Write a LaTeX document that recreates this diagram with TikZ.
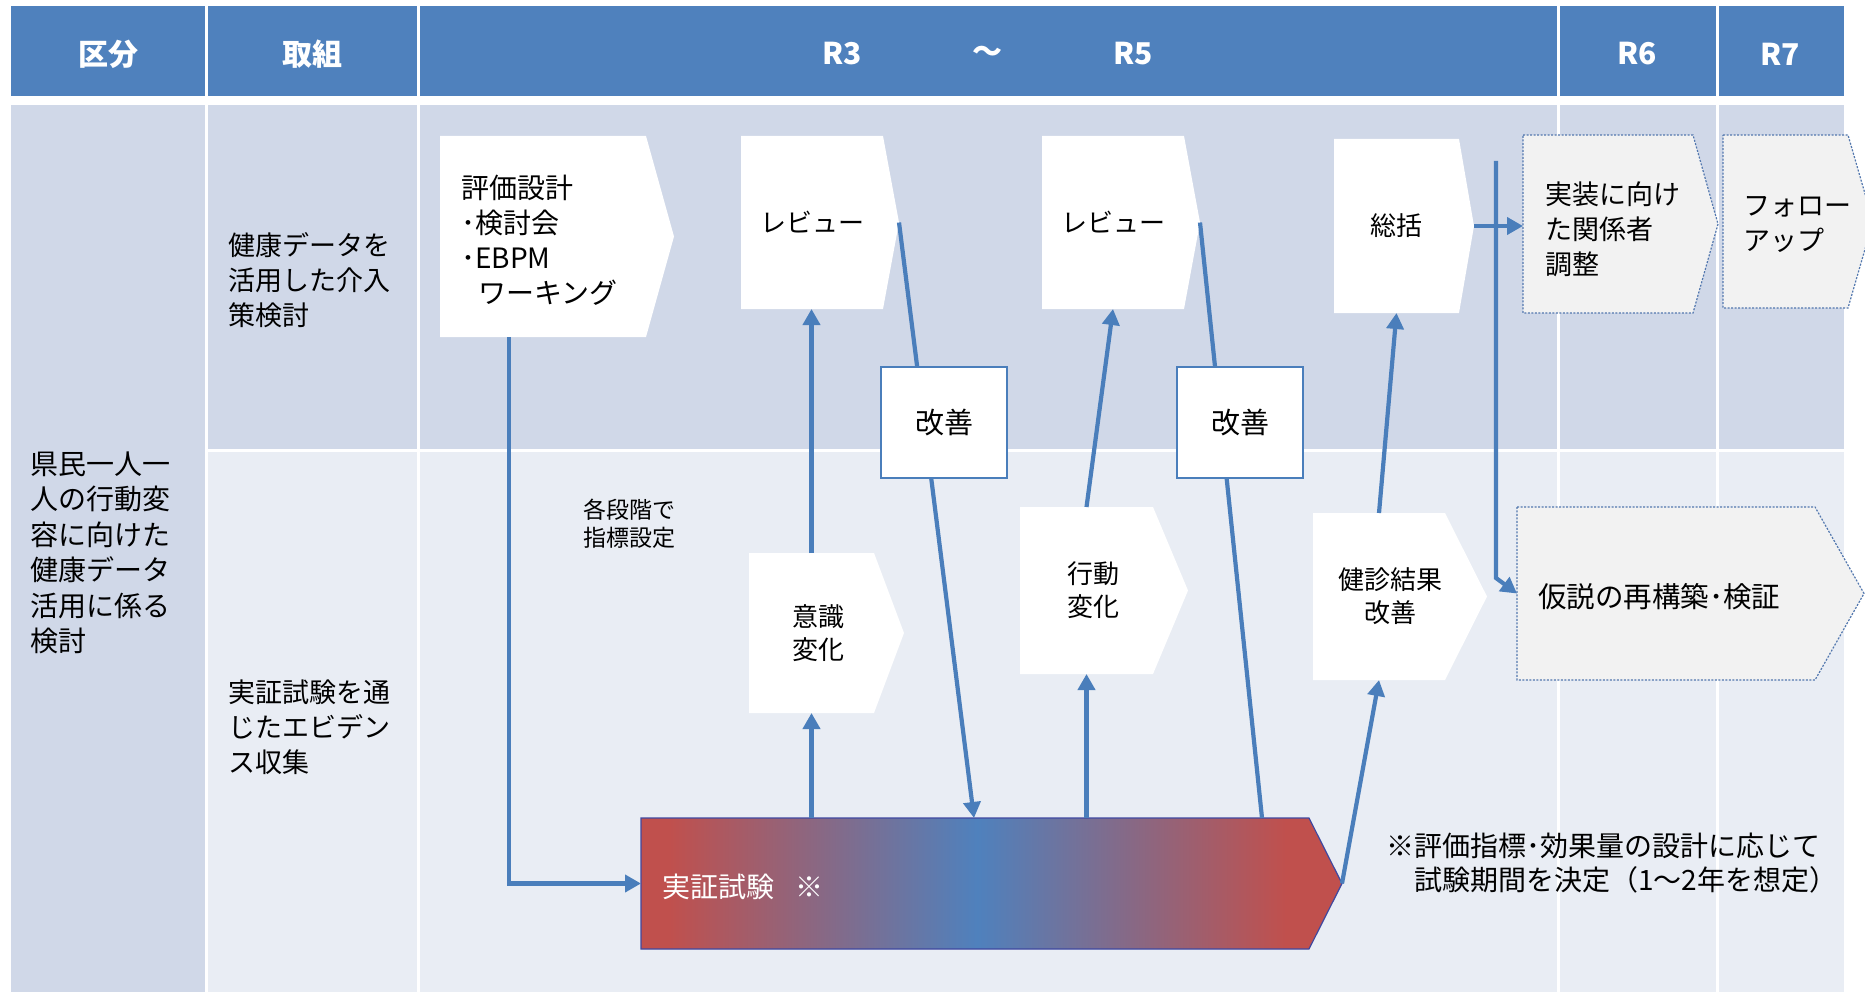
\documentclass[tikz,border=0pt]{standalone}
\usepackage{fontspec}
\setmainfont{Noto Sans CJK JP}
\usetikzlibrary{arrows.meta,calc}
\definecolor{hdr}{HTML}{4F81BD}
\definecolor{cellA}{HTML}{D0D8E8}
\definecolor{cellB}{HTML}{E9EDF4}
\definecolor{arw}{HTML}{4A7EBB}
\definecolor{jred}{HTML}{C0504D}
\definecolor{jblue}{HTML}{4F81BD}
\definecolor{kbd}{HTML}{3F48A0}
\definecolor{dotbd}{HTML}{5277AE}
\definecolor{greyf}{HTML}{F2F2F2}
\pgfdeclarehorizontalshading{rbr}{100bp}{color(0bp)=(jred); color(27bp)=(jred); color(49bp)=(jblue); color(71bp)=(jred); color(100bp)=(jred)}
\pgfdeclarelayer{bg}
\pgfdeclarelayer{shapes}
\pgfsetlayers{bg,shapes,main}
\newcommand\chevpath[3][]{%
  \begin{pgfonlayer}{shapes}
  \path[#1] (#2.north west) -- (#2.north east) -- ([xshift=#3pt]#2.east) -- (#2.south east) -- (#2.south west) -- cycle;
  \end{pgfonlayer}
  \coordinate (#2-tip) at ([xshift=#3pt]#2.east);}
\begin{document}
\begin{tikzpicture}[x=1pt,y=-1pt,
  txt/.style={font=\fontsize{27}{35}\selectfont, inner sep=0pt, align=left, anchor=west},
  area/.style={rectangle, inner sep=0pt, outer sep=0pt, align=center, font=\fontsize{26}{33}\selectfont},
  ctxt/.style={inner sep=0pt, align=center, font=\fontsize{26}{33}\selectfont},
  hdrtxt/.style={text=white, font=\fontsize{30}{36}\selectfont\bfseries, inner sep=0pt},
  arr/.style={draw=arw, line width=4.2pt, -{Triangle[length=16pt,width=17pt]}},
  conn/.style={draw=arw, line width=4.2pt},
  kaizen/.style={rectangle, draw=arw, line width=2pt, fill=white, minimum width=126pt, minimum height=111pt, inner sep=0pt, font=\fontsize{29}{33}\selectfont},
  whitebox/.style={fill=white},
  dotbox/.style={fill=greyf, draw=dotbd, line width=1.2pt, dash pattern=on 2pt off 1.5pt},
]
\useasboundingbox (0,0) rectangle (1865,992);
% ---------- table ----------
\begin{pgfonlayer}{bg}
\fill[white] (0,0) rectangle (1865,992);
\fill[hdr] (11,6) rectangle (205,96);
\fill[hdr] (208,6) rectangle (417,96);
\fill[hdr] (420,6) rectangle (1557,96);
\fill[hdr] (1560,6) rectangle (1716,96);
\fill[hdr] (1719,6) rectangle (1844,96);
\fill[cellA] (11,105) rectangle (205,992);
\fill[cellA] (208,105) rectangle (417,449);
\fill[cellA] (420,105) rectangle (1557,449);
\fill[cellA] (1560,105) rectangle (1716,449);
\fill[cellA] (1719,105) rectangle (1844,449);
\fill[cellB] (208,452) rectangle (417,992);
\fill[cellB] (420,452) rectangle (1557,992);
\fill[cellB] (1560,452) rectangle (1716,992);
\fill[cellB] (1719,452) rectangle (1844,992);
\end{pgfonlayer}
% header texts
\node[hdrtxt] (h1) at (108,54) {区分};
\node[hdrtxt] (h2) at (312,54) {取組};
\node[hdrtxt] (h3) at (842,54) {R3};
\node[hdrtxt] (h4) at (987,54) {～};
\node[hdrtxt] (h5) at (1133,54) {R5};
\node[hdrtxt] (h6) at (1637,54) {R6};
\node[hdrtxt] (h7) at (1780,54) {R7};
% row labels
\node[txt, font=\fontsize{28}{35.5}\selectfont] (c1) at (30,553) {県民一人一\\人の行動変\\容に向けた\\健康データ\\活用に係る\\検討};
\node[txt] (c2a) at (228,280) {健康データを\\活用した介入\\策検討};
\node[txt] (c2b) at (228,727) {実証試験を通\\じたエビデン\\ス収集};
% ---------- boxes ----------
\node[area, minimum width=206pt, minimum height=201pt] (A) at (543,236.5) {};
\chevpath[whitebox]{A}{28}
\node[txt, font=\fontsize{28}{35}\selectfont] (At) at (461,240) {評価設計\\･検討会\\･EBPM\\\hspace*{0.6em}ワーキング};
\node[area, minimum width=142pt, minimum height=173pt] (B) at (812,222.5) {レビュー};
\chevpath[whitebox]{B}{16}
\node[area, minimum width=142pt, minimum height=173pt] (C) at (1113,222.5) {レビュー};
\chevpath[whitebox]{C}{16}
\node[area, minimum width=125pt, minimum height=174pt] (D) at (1396.5,226) {総括};
\chevpath[whitebox]{D}{15}
\node[area, minimum width=170pt, minimum height=178pt] (E) at (1608,224) {};
\chevpath[dotbox]{E}{25}
\node[txt] (Et) at (1545,229.5) {実装に向け\\た関係者\\調整};
\node[area, minimum width=125pt, minimum height=173pt] (F) at (1785.5,221.5) {};
\chevpath[dotbox]{F}{25}
\node[txt] (Ft) at (1743,224.5) {フォロー\\アップ};
\node[area, minimum width=298pt, minimum height=173pt] (G) at (1666,593.5) {};
\chevpath[dotbox]{G}{49}
\node[txt, font=\fontsize{28.5}{35}\selectfont] (Gt) at (1538,597) {仮説の再構築･検証};
\node[area, minimum width=132pt, minimum height=167pt] (H) at (1379,596.5) {};
\chevpath[whitebox]{H}{42}
\node[ctxt] (Ht) at ([xshift=11pt]H.center) {健診結果\\改善};
\node[area, minimum width=125pt, minimum height=160pt] (I) at (811.5,633) {};
\chevpath[whitebox]{I}{30}
\node[ctxt] (It) at ([xshift=7pt]I.center) {意識\\変化};
\node[area, minimum width=133pt, minimum height=167pt] (J) at (1086.5,590.5) {};
\chevpath[whitebox]{J}{35}
\node[ctxt] (Jt) at ([xshift=7pt]J.center) {行動\\変化};
\node[area, minimum width=668pt, minimum height=131pt] (trial) at (975,883.5) {};
\chevpath[shade, shading=rbr, draw=kbd, line width=1.2pt]{trial}{33}
\node[txt, text=white, font=\fontsize{28}{35}\selectfont] (trialt) at (662,887) {実証試験\hspace{0.75em}※};
% free texts
\node[txt, font=\fontsize{23}{28}\selectfont] (idx) at (583,524) {各段階で\\指標設定};
\node[txt, font=\fontsize{28}{34}\selectfont] (note) at (1386,863) {※評価指標･効果量の設計に応じて\\\hspace*{1em}試験期間を決定（1～2年を想定）};
% ---------- connectors ----------
\draw[arr] ([xshift=69pt]A.south west) |- (trial.west);
\draw[arr] (I.south |- trial.north) -- (I.south);
\draw[arr] (I.north) -- (I.north |- B.south);
\draw[arr] (B-tip) -- ([xshift=333pt]trial.north west);
\draw[conn] (C-tip) -- ([xshift=621pt]trial.north west);
\draw[arr] (J.south |- trial.north) -- (J.south);
\draw[arr] (J.north) -- (C.south);
\draw[arr] (trial-tip) -- (H.south);
\draw[arr] (H.north) -- (D.south);
\draw[arr] (D-tip) -- (D-tip -| E.west);
\coordinate (vtop) at (1496,161);
\coordinate (vbend) at (1496,578);
\draw[arr] (vtop) -- (vbend) -- (G.west);
% improvement boxes on top of the lines
\node[kaizen] (kz1) at (944,422.5) {改善};
\node[kaizen] (kz2) at (1240,422.5) {改善};
\end{tikzpicture}
\end{document}
